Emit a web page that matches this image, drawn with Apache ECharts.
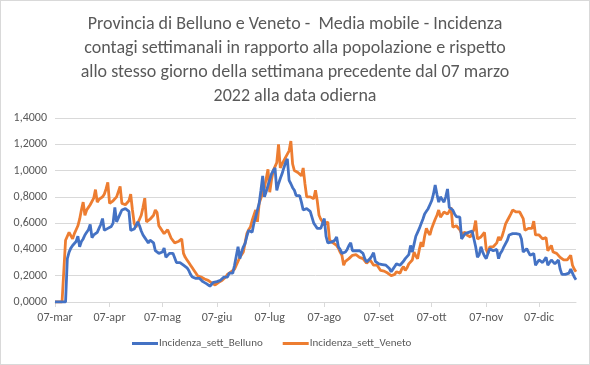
<!DOCTYPE html>
<html><head><meta charset="utf-8">
<script src="https://cdn.jsdelivr.net/npm/echarts@6/dist/echarts.min.js"></script>
<style>html,body{margin:0;padding:0;background:#fff}#c{width:588px;height:363px;border:1px solid #d9d9d9}</style>
</head><body><div id="c"></div>
<script>
const titleText = "Provincia di Belluno e Veneto -  Media mobile - Incidenza\ncontagi settimanali in rapporto alla popolazione e rispetto\nallo stesso giorno della settimana precedente dal 07 marzo\n2022 alla data odierna";
const seriesNames = ["Incidenza_sett_Belluno", "Incidenza_sett_Veneto"];
const monthNames = ["gen","feb","mar","apr","mag","giu","lug","ago","set","ott","nov","dic"];
const startDate = [2022, 2, 7];
const yTicks = [0, 0.2, 0.4, 0.6, 0.8, 1.0, 1.2, 1.4];

const belluno = [
0,0,0,0,0,0,0,0.33,0.38,0.41,
0.43,0.44,0.46,0.50,0.42,0.46,0.48,0.51,0.53,0.55,
0.59,0.49,0.51,0.52,0.53,0.56,0.59,0.635,0.545,0.55,
0.56,0.57,0.575,0.60,0.72,0.61,0.64,0.67,0.70,0.71,
0.71,0.71,0.69,0.545,0.55,0.555,0.56,0.61,0.58,0.54,
0.51,0.49,0.47,0.45,0.47,0.485,0.45,0.39,0.38,0.37,
0.36,0.38,0.41,0.34,0.35,0.37,0.38,0.37,0.37,0.30,
0.30,0.30,0.30,0.28,0.27,0.26,0.24,0.21,0.19,0.18,
0.18,0.185,0.18,0.17,0.155,0.15,0.14,0.13,0.12,0.105,
0.15,0.16,0.155,0.16,0.165,0.18,0.19,0.20,0.19,0.22,
0.21,0.22,0.28,0.35,0.42,0.33,0.38,0.42,0.445,0.50,
0.545,0.54,0.53,0.60,0.645,0.70,0.75,0.85,0.96,0.80,
0.84,0.885,0.93,0.975,1.00,1.02,0.85,0.90,0.94,0.975,
1.02,1.06,1.09,0.925,0.90,0.87,0.85,0.81,0.81,0.81,
0.76,0.70,0.705,0.71,0.70,0.69,0.685,0.60,0.58,0.56,
0.56,0.56,0.56,0.635,0.50,0.45,0.45,0.455,0.455,0.47,
0.495,0.42,0.40,0.37,0.375,0.38,0.40,0.43,0.45,0.39,
0.39,0.39,0.39,0.39,0.38,0.37,0.33,0.305,0.32,0.33,
0.35,0.375,0.31,0.295,0.29,0.28,0.285,0.295,0.28,0.265,
0.255,0.23,0.25,0.27,0.29,0.305,0.28,0.29,0.31,0.33,
0.33,0.36,0.43,0.38,0.44,0.50,0.53,0.56,0.595,0.63,
0.67,0.69,0.71,0.74,0.77,0.82,0.89,0.82,0.76,0.80,
0.78,0.76,0.80,0.86,0.72,0.71,0.70,0.67,0.65,0.635,
0.645,0.48,0.50,0.52,0.53,0.53,0.53,0.54,0.545,0.42,
0.34,0.36,0.42,0.38,0.35,0.33,0.37,0.405,0.39,0.39,
0.39,0.40,0.33,0.37,0.39,0.42,0.43,0.47,0.51,0.515,
0.52,0.52,0.52,0.52,0.515,0.48,0.38,0.38,0.405,0.38,
0.355,0.36,0.37,0.28,0.30,0.32,0.32,0.30,0.32,0.34,
0.28,0.30,0.32,0.31,0.29,0.30,0.32,0.25,0.21,0.21,
0.21,0.21,0.22,0.25,0.22,0.19,0.17
];
const veneto = [
0,0,0,0,0,0,0.47,0.50,0.53,0.545,
0.48,0.52,0.55,0.58,0.63,0.70,0.76,0.66,0.70,0.72,
0.74,0.75,0.79,0.855,0.76,0.78,0.79,0.80,0.82,0.86,
0.91,0.75,0.76,0.77,0.78,0.80,0.84,0.88,0.75,0.75,
0.74,0.75,0.77,0.82,0.70,0.60,0.57,0.60,0.63,0.66,
0.72,0.79,0.61,0.62,0.63,0.645,0.66,0.70,0.68,0.58,
0.56,0.545,0.52,0.53,0.55,0.565,0.485,0.47,0.45,0.45,
0.46,0.47,0.48,0.37,0.34,0.32,0.30,0.28,0.26,0.24,
0.22,0.20,0.19,0.19,0.18,0.175,0.165,0.165,0.155,0.145,
0.14,0.13,0.135,0.15,0.155,0.165,0.18,0.19,0.21,0.22,
0.23,0.24,0.25,0.28,0.31,0.34,0.36,0.38,0.45,0.52,
0.55,0.57,0.62,0.66,0.70,0.61,0.75,0.79,0.83,0.87,
0.94,1.01,0.835,0.93,1.00,1.03,1.06,1.20,1.02,1.05,
1.075,1.10,1.11,1.15,1.225,1.05,1.00,0.99,0.985,0.975,
0.96,1.02,0.90,0.80,0.80,0.80,0.79,0.785,0.85,0.77,
0.66,0.63,0.61,0.585,0.60,0.61,0.47,0.46,0.45,0.445,
0.43,0.41,0.38,0.355,0.28,0.31,0.32,0.33,0.345,0.355,
0.365,0.36,0.35,0.34,0.335,0.33,0.33,0.295,0.30,0.32,
0.30,0.28,0.28,0.28,0.28,0.24,0.24,0.235,0.23,0.22,
0.215,0.20,0.19,0.21,0.23,0.225,0.22,0.25,0.27,0.24,
0.26,0.29,0.30,0.32,0.38,0.35,0.33,0.40,0.455,0.42,
0.50,0.56,0.53,0.51,0.56,0.595,0.63,0.66,0.70,0.645,
0.66,0.685,0.68,0.67,0.69,0.72,0.57,0.57,0.58,0.58,
0.55,0.52,0.52,0.53,0.51,0.495,0.495,0.495,0.55,0.62,
0.48,0.49,0.495,0.51,0.53,0.40,0.37,0.42,0.42,0.42,
0.405,0.45,0.495,0.47,0.50,0.545,0.595,0.62,0.645,0.67,
0.70,0.69,0.685,0.685,0.685,0.67,0.635,0.545,0.55,0.56,
0.57,0.56,0.615,0.51,0.51,0.51,0.50,0.48,0.49,0.49,
0.39,0.40,0.43,0.38,0.37,0.37,0.355,0.34,0.33,0.32,
0.32,0.32,0.33,0.355,0.28,0.25,0.23
];

const categories = [];
{
  const d = new Date(startDate[0], startDate[1], startDate[2]);
  for (let i = 0; i < belluno.length; i++) {
    categories.push(String(d.getDate()).padStart(2, '0') + '-' + monthNames[d.getMonth()]);
    d.setDate(d.getDate() + 1);
  }
}
const isMonthTick = (i) => categories[i] && categories[i].startsWith('07-');

const font = "Calibri, Carlito, 'Open Sans', sans-serif";
const chart = echarts.init(document.getElementById('c'), null, {renderer: 'canvas'});
chart.setOption({
  animation: false,
  color: ['#4472C4', '#ED7D31'],
  title: {
    text: titleText, left: 'center', top: 6,
    textStyle: {fontFamily: font, fontSize: 18, fontWeight: 'normal', color: '#595959', lineHeight: 24}
  },
  grid: {left: 54, right: 13, top: 117, bottom: 62, containLabel: false},
  legend: {
    bottom: 10, left: 126, icon: 'rect', itemWidth: 26, itemHeight: 3, itemGap: 20,
    textStyle: {fontFamily: font, fontSize: 11, color: '#595959', padding: [0,0,0,-4]},
    data: seriesNames
  },
  xAxis: {
    type: 'category', boundaryGap: false, data: categories,
    axisLine: {lineStyle: {color: '#d9d9d9'}},
    axisTick: {show: true, alignWithLabel: true, interval: (i) => isMonthTick(i), length: 5, lineStyle: {color: '#d9d9d9'}},
    axisLabel: {interval: (i) => isMonthTick(i), fontFamily: font, fontSize: 12, color: '#595959', margin: 10},
    splitLine: {show: false}
  },
  yAxis: {
    type: 'value', min: yTicks[0], max: yTicks[yTicks.length-1], interval: 0.2,
    axisLine: {show: false}, axisTick: {show: false},
    axisLabel: {formatter: (v) => v.toFixed(4).replace('.', ','), fontFamily: font, fontSize: 12, color: '#595959', margin: 8},
    splitLine: {lineStyle: {color: '#d9d9d9'}}
  },
  series: [
    {name: seriesNames[0], type: 'line', data: belluno, showSymbol: false, lineStyle: {width: 2.8}, z: 3},
    {name: seriesNames[1], type: 'line', data: veneto, showSymbol: false, lineStyle: {width: 2.8}, z: 2}
  ]
});
</script></body></html>
